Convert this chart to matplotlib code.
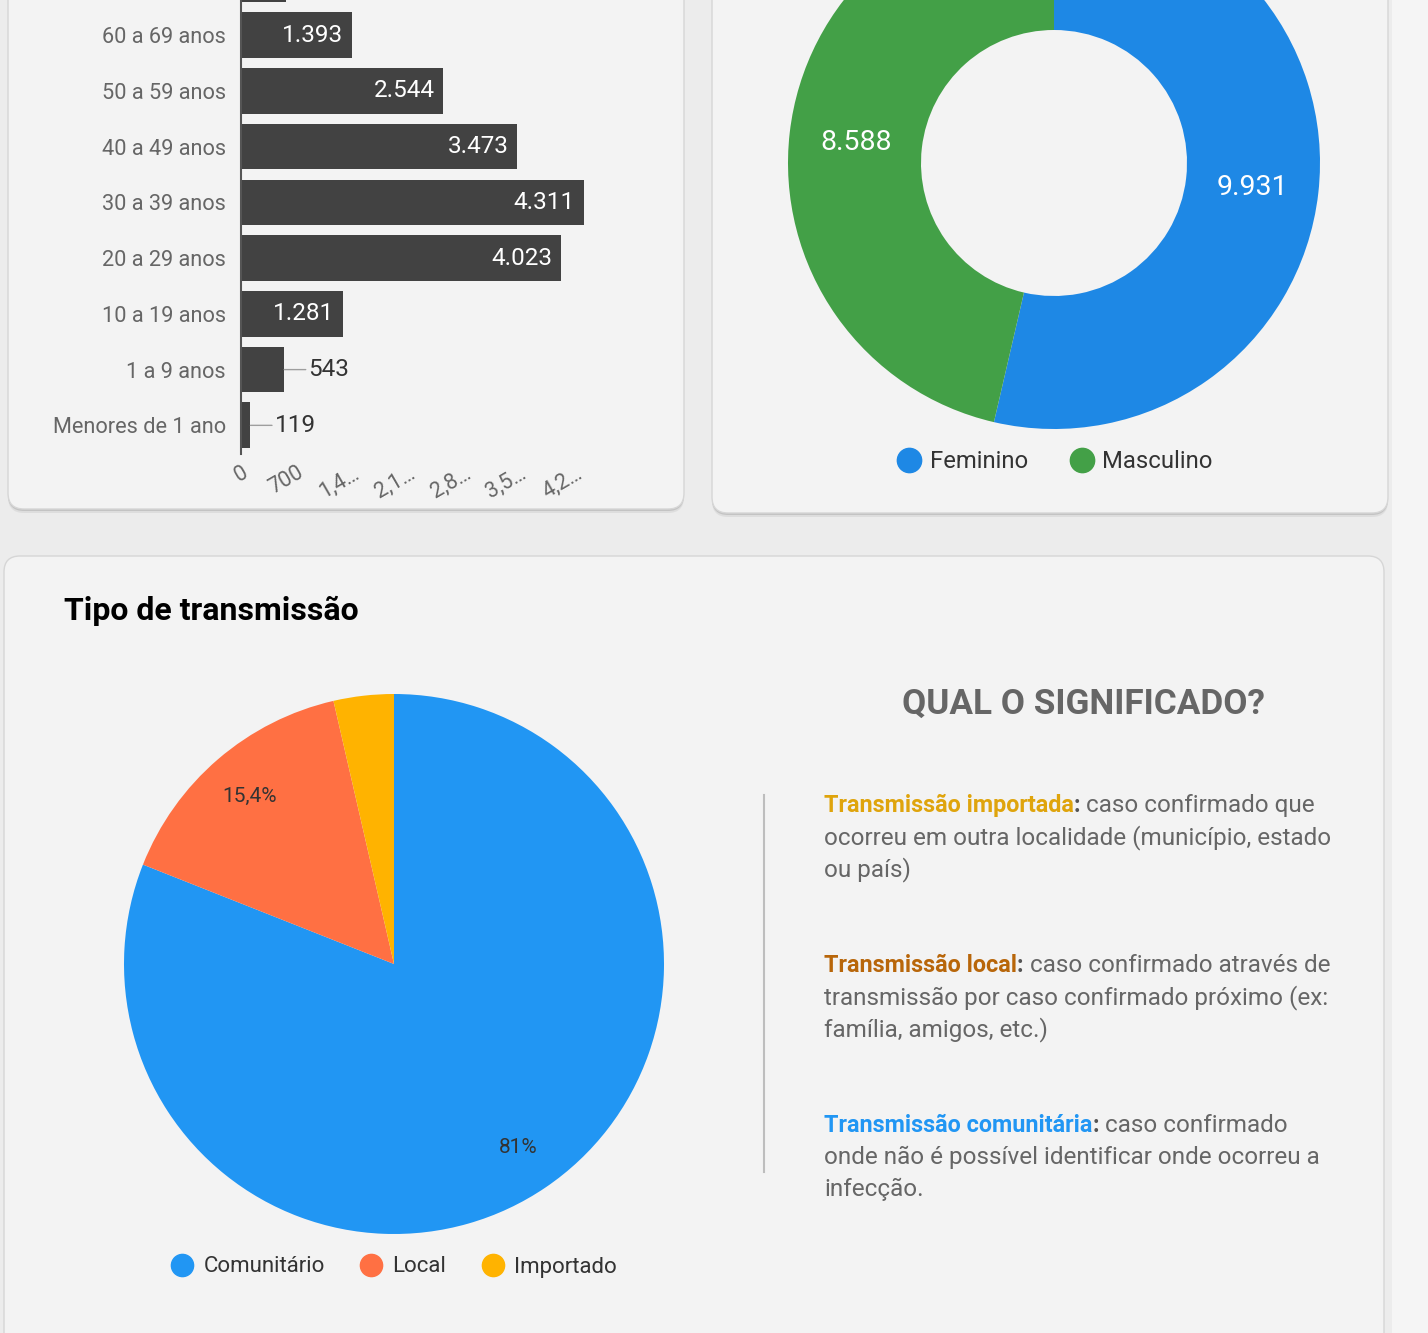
import numpy as np
import matplotlib
matplotlib.use('Agg')
import matplotlib.pyplot as plt
from matplotlib.patches import FancyBboxPatch, Rectangle
from matplotlib.lines import Line2D
from matplotlib.transforms import ScaledTranslation

plt.rcParams['font.family'] = ['Roboto', 'DejaVu Sans']

# dados
faixas = ['Menores de 1 ano', '1 a 9 anos', '10 a 19 anos', '20 a 29 anos',
          '30 a 39 anos', '40 a 49 anos', '50 a 59 anos', '60 a 69 anos', '70 a 79 anos']
casos = [119, 543, 1281, 4023, 4311, 3473, 2544, 1393, 565]
x_ticks = [0, 700, 1400, 2100, 2800, 3500, 4200]
x_ticklabels = ['0', '700', '1,4…', '2,1…', '2,8…', '3,5…', '4,2…']

sexo = ['Feminino', 'Masculino']
sexo_casos = [9931, 8588]
sexo_cores = ['#1E88E5', '#43A047']

transm = ['Comunitário', 'Local', 'Importado']
transm_pct = [81, 15.4, 3.6]
transm_cores = ['#2196F3', '#FF7043', '#FFB300']

W, H = 1428, 1333
GRAY = '#666666'

def fbox(x0, y0, x1, y1):
    # caixa em pixels (origem no topo) -> coords da figura
    return [x0 / W, 1 - y1 / H, (x1 - x0) / W, (y1 - y0) / H]

def fmt(v):
    return f"{v:,}".replace(',', '.')

fig = plt.figure(figsize=(W / 100, H / 100), dpi=100, facecolor='#ececec')

# fundo e cartoes
bg = fig.add_axes([0, 0, 1, 1], zorder=-5)
bg.set_xlim(0, W)
bg.set_ylim(H, 0)
bg.axis('off')
bg.add_patch(Rectangle((1392, 0), 40, H, color='#f5f5f5', lw=0))

def card(x0, y0, x1, y1):
    for off, c, a in [(4, '#d0d0d0', 0.5), (2, '#bdbdbd', 0.8)]:
        bg.add_patch(FancyBboxPatch((x0, y0 + off), x1 - x0, y1 - y0,
                                    boxstyle='round,pad=0,rounding_size=16',
                                    fc=c, ec='none', alpha=a))
    bg.add_patch(FancyBboxPatch((x0, y0), x1 - x0, y1 - y0,
                                boxstyle='round,pad=0,rounding_size=16',
                                fc='#f3f3f3', ec='#d6d6d6', lw=1))

card(8, -60, 684, 509)
card(712, -60, 1388, 513)
card(4, 556, 1384, 1400)

# barras por faixa etaria
ax = fig.add_axes(fbox(241, 0, 631, 454))
ax.set_facecolor('none')
y = np.arange(len(faixas))
ax.barh(y, casos, height=0.82, color='#424242')
for s in ['top', 'right', 'bottom']:
    ax.spines[s].set_visible(False)
ax.spines['left'].set_color('#555555')
ax.spines['left'].set_linewidth(1.5)
ax.set_yticks(y, faixas, fontsize=15.7, color=GRAY)
ax.set_xticks(x_ticks, x_ticklabels, fontsize=15.5, color=GRAY)
ax.set_xlim(0, 4900)
ax.set_ylim(-0.514, 7.63)
ax.tick_params(axis='y', length=0, pad=11)
ax.tick_params(axis='x', length=0, pad=6)
plt.setp(ax.get_xticklabels(), rotation=30, ha='right', rotation_mode='anchor')
for i, v in enumerate(casos[:8]):
    if v > 1000:
        ax.annotate(fmt(v), (v, i), xytext=(-6.5, 0), textcoords='offset points',
                    ha='right', va='center', color='white', fontsize=17.5)
    else:
        ax.annotate(fmt(v), (v, i), xytext=(17.5, 0), textcoords='offset points',
                    ha='left', va='center', color='#333333', fontsize=17.5,
                    arrowprops=dict(arrowstyle='-', color='#9e9e9e', lw=1,
                                    shrinkA=0, shrinkB=0))

# rosca por sexo
ax2 = fig.add_axes(fbox(754, -137, 1354, 463))
total = sum(sexo_casos)
_, _, rotulos = ax2.pie(sexo_casos, colors=sexo_cores, startangle=90, counterclock=False,
                        radius=1, wedgeprops=dict(width=0.5, linewidth=0),
                        autopct=lambda p: fmt(int(round(p * total / 100))),
                        pctdistance=0.75, textprops=dict(color='white', fontsize=20.5))
for t in rotulos:
    t.set_transform(t.get_transform() + ScaledTranslation(0, -0.02, fig.dpi_scale_trans))
ax2.set_xlim(-300 / 266, 300 / 266)
ax2.set_ylim(-300 / 266, 300 / 266)
ax2.set_aspect('equal')
h2 = [Line2D([], [], ls='', marker='o', markersize=17.5, color=c) for c in sexo_cores]
fig.legend(h2, sexo, loc='center', bbox_to_anchor=(1055 / W, 1 - 462 / H), ncol=2,
           frameon=False, fontsize=17.2, handlelength=1, handletextpad=0.35,
           columnspacing=1.75, labelcolor='#333333')

# pizza tipo de transmissao
ax3 = fig.add_axes(fbox(94, 664, 694, 1264))
def pct_label(p):
    if p < 5:
        return ''
    return f"{p:.1f}".rstrip('0').rstrip('.').replace('.', ',') + '%'
ax3.pie(transm_pct, colors=transm_cores, startangle=90, counterclock=False, radius=1,
        wedgeprops=dict(linewidth=0), autopct=pct_label, pctdistance=0.82,
        textprops=dict(color='#333333', fontsize=15))
ax3.set_xlim(-300 / 270, 300 / 270)
ax3.set_ylim(-300 / 270, 300 / 270)
ax3.set_aspect('equal')
h3 = [Line2D([], [], ls='', marker='o', markersize=16, color=c) for c in transm_cores]
fig.legend(h3, transm, loc='center', bbox_to_anchor=(394 / W, 1 - 1267 / H), ncol=3,
           frameon=False, fontsize=16, handlelength=1, handletextpad=0.45,
           columnspacing=1.6, labelcolor='#333333')

fig.text(64 / W, 1 - 620 / H, 'Tipo de transmissão', fontsize=23, fontweight='bold',
         color='black', va='baseline')
fig.text(1083 / W, 1 - 714 / H, 'QUAL O SIGNIFICADO?', fontsize=25.3, fontweight='bold',
         color=GRAY, va='baseline', ha='center')

bg.plot([764, 764], [795, 1172], color='#bdbdbd', lw=1.5)

paragrafos = [
    ('Transmissão importada', '#DFA40C', ' caso confirmado que',
     ['ocorreu em outra localidade (município, estado', 'ou país)'], 812),
    ('Transmissão local', '#B8660A', ' caso confirmado através de',
     ['transmissão por caso confirmado próximo (ex:', 'família, amigos, etc.)'], 972),
    ('Transmissão comunitária', '#2196F3', ' caso confirmado',
     ['onde não é possível identificar onde ocorreu a', 'infecção.'], 1132),
]
fig.canvas.draw()
r = fig.canvas.get_renderer()
fs = 17.5
for chave, cor, resto, linhas, yb in paragrafos:
    t = fig.text(824 / W, 1 - yb / H, chave, fontsize=16.8, fontweight='bold', color=cor,
                 va='baseline')
    x1 = t.get_window_extent(r).x1
    t2 = fig.text(x1 / W, 1 - yb / H, ':', fontsize=16.8, fontweight='bold', color='#555555',
                  va='baseline')
    x2 = t2.get_window_extent(r).x1
    fig.text(x2 / W, 1 - yb / H, resto, fontsize=fs, color=GRAY, va='baseline')
    for k, ln in enumerate(linhas):
        fig.text(824 / W, 1 - (yb + 32 * (k + 1)) / H, ln, fontsize=fs, color=GRAY,
                 va='baseline')

fig.savefig('out.png', dpi=100, facecolor=fig.get_facecolor())
